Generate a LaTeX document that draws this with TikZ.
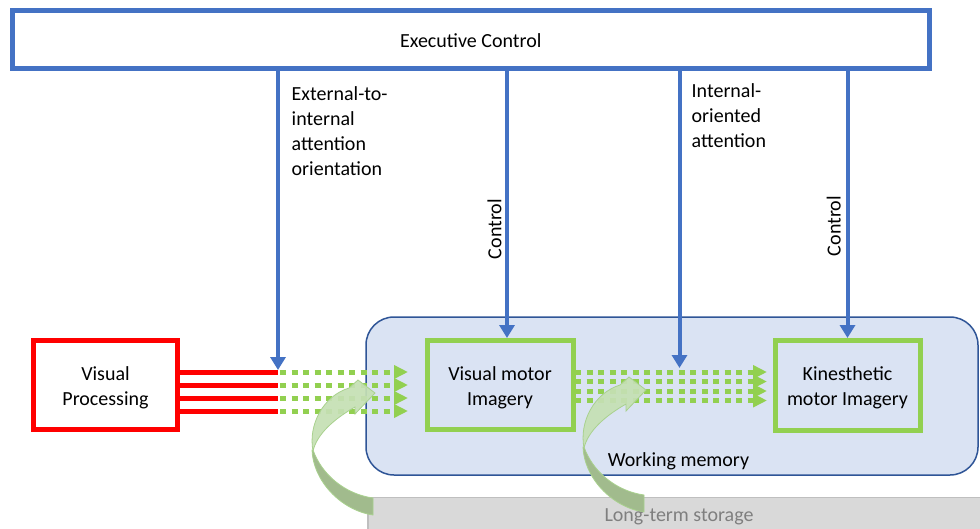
\documentclass[tikz,border=0pt]{standalone}
\usepackage{fontspec}
\setmainfont{Carlito}
\usetikzlibrary{arrows.meta}
\definecolor{cblue}{HTML}{4472C4}
\definecolor{cgreen}{HTML}{92D050}
\definecolor{wmfill}{HTML}{DAE3F3}
\definecolor{wmdraw}{HTML}{2F5597}
\definecolor{ltfill}{HTML}{D9D9D9}
\definecolor{ltdraw}{HTML}{BFBFBF}
\definecolor{ltext}{HTML}{7F7F7F}
\definecolor{arrlight}{HTML}{C5E0B4}
\definecolor{arrdark}{HTML}{A1BB8D}
\definecolor{arredge}{HTML}{A9D18E}
\newcommand{\upstrut}{\rule{0pt}{19pt}}
\begin{document}
\begin{tikzpicture}[x=1pt,y=-1pt,
  every node/.style={font=\fontsize{20}{25}\selectfont, inner sep=0pt, outer sep=0pt},
  boxnode/.style={draw, line width=5pt, align=center},
  bluearrow/.style={draw=cblue, line width=4pt, -{Triangle[length=13pt,width=15pt]}},
  redline/.style={draw=red, line width=5pt},
  greendots/.style={draw=cgreen, line width=5pt, dash pattern=on 6pt off 5.5pt, -{Triangle[length=14pt,width=13pt]}},
  wmbox/.style={draw=wmdraw, fill=wmfill, line width=1.5pt, rounded corners=28pt},
  ltbox/.style={draw=ltdraw, fill=ltfill, line width=1.5pt},
  ribbonlight/.style={fill=arrlight, draw=arredge, line width=0.8pt, fill opacity=0.92},
  ribbondark/.style={fill=arrdark, draw=arredge, line width=0.8pt},
  curvedarrow/.pic={
    \path[ribbondark] (312,450) .. controls (313,480) and (340,510) .. (373,515)
       -- (373,498) .. controls (345,494) and (322,475) .. (313,450) -- cycle;
    \path[ribbonlight] (349,388) -- (358,380) -- (375,393) -- (355,414) -- (355,407)
       .. controls (334,419) and (317,434) .. (313,451)
       .. controls (308,425) and (323,396) .. (349,388) -- cycle;
  }]
\useasboundingbox (0,0) rectangle (980,528);
\fill[white] (0,0) rectangle (980,528);

% regions
\node[wmbox, minimum width=612pt, minimum height=158pt] (wm) at (672,396) {};
\node[ltbox, minimum width=640pt, minimum height=60pt, anchor=north west] (lts) at (368,497.5) {};

% boxes
\node[boxnode, draw=cblue, fill=white, minimum width=916.5pt, minimum height=58pt] (exec) at (470.75,39) {\rule{0pt}{17pt}Executive Control};
\node[boxnode, draw=red, fill=white, minimum width=144pt, minimum height=89pt] (vp) at (105.5,385) {\upstrut Visual\\Processing};
\node[boxnode, draw=cgreen, minimum width=146pt, minimum height=89pt] (vmi) at (500,385) {\upstrut Visual motor\\Imagery};
\node[boxnode, draw=cgreen, minimum width=145pt, minimum height=89.5pt] (kmi) at (847.5,385.25) {\upstrut Kinesthetic\\motor Imagery};

% red lines and first green dotted group
\foreach \y [count=\i] in {372,385,398,411} {
  \coordinate (rj\i) at (278,\y);
  \coordinate (gs\i) at (280,\y);
  \coordinate (ge\i) at (408,\y);
  \draw[redline] (vp.east |- rj\i) -- (rj\i);
  \draw[greendots] (gs\i) -- (ge\i);
}
% second green dotted group
\foreach \y [count=\i] in {372,381.5,391,400.5} {
  \coordinate (hs\i) at (575,\y);
  \coordinate (he\i) at (767,\y);
  \draw[greendots] (hs\i) -- (he\i);
}

% blue arrows
\coordinate (t1) at (278,370);
\coordinate (t2) at (507,338);
\coordinate (t3) at (679.5,368);
\coordinate (t4) at (847.5,338);
\draw[bluearrow] (exec.south -| t1) -- (t1);
\draw[bluearrow] (exec.south -| t2) -- (t2);
\draw[bluearrow] (exec.south -| t3) -- (t3);
\draw[bluearrow] (exec.south -| t4) -- (t4);

% curved block arrows
\pic at (0,0) {curvedarrow};
\pic at (271,-3) {curvedarrow};

% labels
\node[anchor=base west] (ext1) at (291.7,100) {External-to-};
\node[anchor=base west] (ext2) at (291.7,125) {internal};
\node[anchor=base west] (ext3) at (291.7,150) {attention};
\node[anchor=base west] (ext4) at (291.7,175) {orientation};
\node[anchor=base west] (int1) at (691.7,97) {Internal-};
\node[anchor=base west] (int2) at (691.7,122) {oriented};
\node[anchor=base west] (int3) at (691.7,147) {attention};
\node[rotate=90] (ctl1) at (494.5,229) {Control};
\node[rotate=90] (ctl2) at (833.7,226) {Control};
\node[anchor=base] (wml) at (678.5,466) {Working memory};
\node[anchor=base, text=ltext] (ltl) at (679,521.5) {Long-term storage};
\end{tikzpicture}
\end{document}
